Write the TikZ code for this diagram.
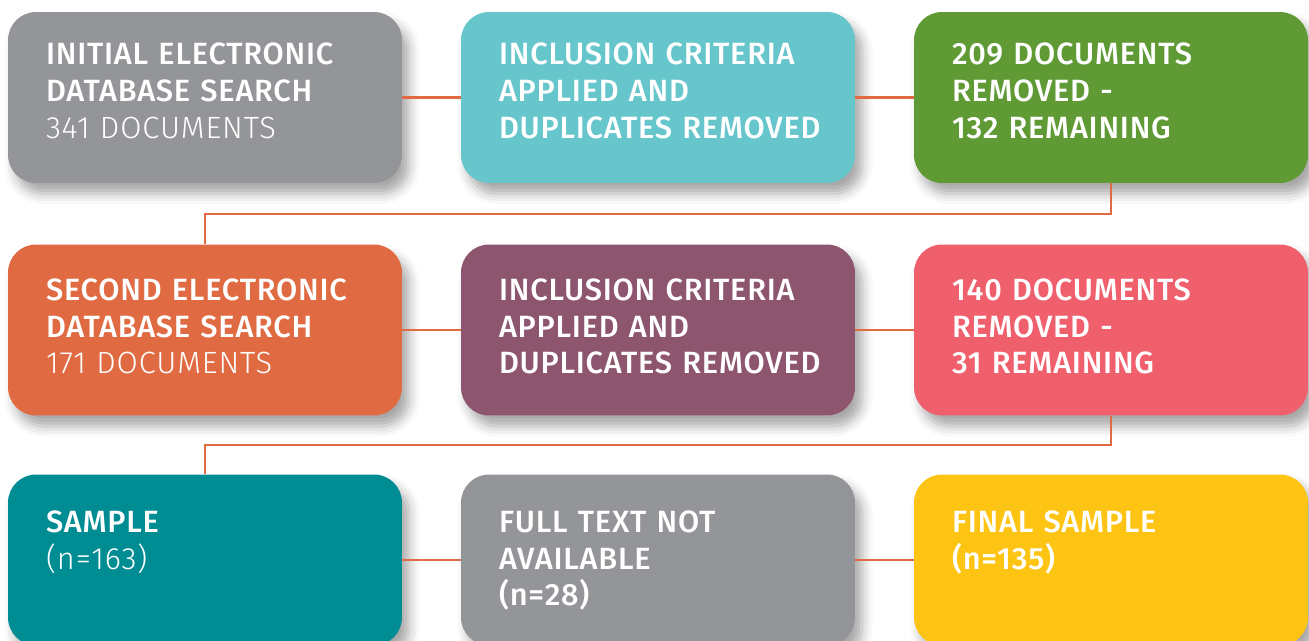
\documentclass[tikz,border=0pt]{standalone}
\usepackage{fontspec}
\setmainfont{Fira Sans Medium}[LetterSpace=2.5]
\newfontfamily\lightfont{Fira Sans Light}[LetterSpace=3]
\usetikzlibrary{calc,shadows.blur}

\definecolor{boxgray}{HTML}{949598}
\definecolor{boxcyan}{HTML}{66C6CC}
\definecolor{boxgreen}{HTML}{5F9A35}
\definecolor{boxorange}{HTML}{E06B43}
\definecolor{boxplum}{HTML}{8D556E}
\definecolor{boxpink}{HTML}{F05F6C}
\definecolor{boxteal}{HTML}{008C93}
\definecolor{boxyellow}{HTML}{FEC414}
\definecolor{linkorange}{HTML}{E06B43}

\tikzset{
	box/.style={rectangle, rounded corners=0.56cm, minimum width=7.88cm, minimum height=3.42cm, inner sep=0pt,
		blur shadow={shadow xshift=4pt, shadow yshift=-6pt, shadow blur radius=6pt, shadow opacity=35}},
	boxtext/.style={anchor=base west, inner sep=0pt, text width=7.2cm, align=left, text=white,
		font=\fontsize{17.5}{21}\selectfont},
	link/.style={draw=linkorange, line width=1.3pt}
}

\begin{document}
\begin{tikzpicture}[x=0.02cm,y=-0.02cm]
	\useasboundingbox (0,0) rectangle (1309,641);

	%row 1
	\node[box, fill=boxgray]  (init)  at (205,97.5) {};
	\node[box, fill=boxcyan]  (incl1) at (658,97.5) {};
	\node[box, fill=boxgreen] (rem1)  at (1111,97.5) {};
		\node[boxtext] at ([shift={(38,53)}]init.north west) {INITIAL ELECTRONIC\\DATABASE SEARCH\\{\lightfont 341 DOCUMENTS}};
		\node[boxtext] at ([shift={(38,53)}]incl1.north west) {INCLUSION CRITERIA\\APPLIED AND\\DUPLICATES REMOVED};
		\node[boxtext] at ([shift={(38,53)}]rem1.north west) {209 DOCUMENTS\\REMOVED -\\132 REMAINING};

	%row 2
	\node[box, fill=boxorange] (second) at (205,330) {};
	\node[box, fill=boxplum]   (incl2)  at (658,330) {};
	\node[box, fill=boxpink]   (rem2)   at (1111,330) {};
		\node[boxtext] at ([shift={(38,56)}]second.north west) {SECOND ELECTRONIC\\DATABASE SEARCH\\{\lightfont 171 DOCUMENTS}};
		\node[boxtext] at ([shift={(38,56)}]incl2.north west) {INCLUSION CRITERIA\\APPLIED AND\\DUPLICATES REMOVED};
		\node[boxtext] at ([shift={(38,56)}]rem2.north west) {140 DOCUMENTS\\REMOVED -\\31 REMAINING};

	%row 3
	\node[box, fill=boxteal]   (sample) at (205,560) {};
	\node[box, fill=boxgray]   (full)   at (658,560) {};
	\node[box, fill=boxyellow] (final)  at (1111,560) {};
		\node[boxtext] at ([shift={(38,58)}]sample.north west) {SAMPLE\\{\lightfont (n=163)}};
		\node[boxtext] at ([shift={(38,58)}]full.north west) {FULL TEXT NOT\\AVAILABLE\\(n=28)};
		\node[boxtext] at ([shift={(38,58)}]final.north west) {FINAL SAMPLE\\(n=135)};

	%connectors
	\draw[link] (init) -- (incl1);
	\draw[link] (incl1) -- (rem1);
	\draw[link] (rem1.south) |- ($(rem1.south)!.5!(second.north)$) -| (second.north);
	\draw[link] (second) -- (incl2);
	\draw[link] (incl2) -- (rem2);
	\draw[link] (rem2.south) |- ($(rem2.south)!.5!(sample.north)$) -| (sample.north);
	\draw[link] (sample) -- (full);
	\draw[link] (full) -- (final);
\end{tikzpicture}
\end{document}
